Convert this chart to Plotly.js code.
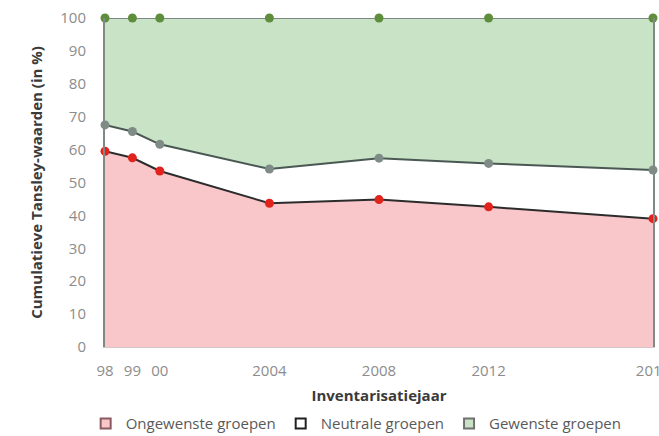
<!DOCTYPE html>
<html>
<head>
<meta charset="utf-8">
<script src="https://cdn.plot.ly/plotly-3.0.1.min.js"></script>
<style>
  html, body { margin: 0; padding: 0; background: #ffffff; }
  #chart { width: 659px; height: 436px; }
</style>
</head>
<body>
<div id="chart"></div>
<script>
// Inventory years and their axis labels
const years = [1998, 1999, 2000, 2004, 2008, 2012, 2018];
const yearLabels = ['98', '99', '00', '2004', '2008', '2012', '2018'];

// Share of Tansley values per group (in %), stacked cumulatively
const ongewenste = [59.5, 57.5, 53.5, 43.7, 44.8, 42.6, 39.0];
const neutrale   = [8.0, 8.0, 8.1, 10.4, 12.6, 13.2, 14.8];
const gewenste   = [32.5, 34.5, 38.4, 45.9, 42.6, 44.2, 46.2];

const seriesNames = ['Ongewenste groepen', 'Neutrale groepen', 'Gewenste groepen'];
const yTicks = [0, 10, 20, 30, 40, 50, 60, 70, 80, 90, 100];

const FONT = '"Open Sans", Lato, sans-serif';

function area(values, name, fill, line, marker) {
  return {
    type: 'scatter',
    mode: 'lines+markers',
    x: years,
    y: values,
    name: name,
    stackgroup: 'tansley',
    fillcolor: fill,
    line: { color: line, width: 2 },
    marker: { color: marker, size: 9 },
    cliponaxis: false,
    showlegend: false,
    hoverinfo: 'skip'
  };
}

// Square legend keys
function key(name, fill, border) {
  return {
    type: 'scatter',
    mode: 'markers',
    x: [null],
    y: [null],
    name: name,
    marker: { symbol: 'square', size: 10, color: fill, line: { color: border, width: 2 } },
    showlegend: true,
    hoverinfo: 'skip'
  };
}

const data = [
  area(ongewenste, seriesNames[0], '#f9c6c9', '#2c2c2c', '#e2231d'),
  area(neutrale,   seriesNames[1], '#ffffff', '#4a5853', '#7e8b86'),
  area(gewenste,   seriesNames[2], '#c8e3c5', '#7c8984', '#5e8e3c'),
  key(seriesNames[0], '#f9c6c9', '#8a5a60'),
  key(seriesNames[1], '#ffffff', '#202020'),
  key(seriesNames[2], '#c8e3c5', '#707070')
];

const layout = {
  width: 659,
  height: 436,
  margin: { l: 105, r: 6, t: 18, b: 89, autoexpand: false },
  paper_bgcolor: '#ffffff',
  plot_bgcolor: '#ffffff',
  font: { family: FONT, size: 15, color: '#8c8c8c' },
  showlegend: true,
  legend: {
    orientation: 'h',
    xref: 'container',
    yref: 'container',
    x: 0.13,
    xanchor: 'left',
    y: 0.028,
    yanchor: 'middle',
    font: { family: FONT, size: 15, color: '#5a5a5a' },
    itemwidth: 30,
    traceorder: 'normal'
  },
  xaxis: {
    range: [1998, 2018],
    tickmode: 'array',
    tickvals: years,
    ticktext: yearLabels,
    showgrid: false,
    zeroline: false,
    showline: true,
    linecolor: '#d4c8c9',
    linewidth: 1,
    ticks: '',
    ticklabelstandoff: 10,
    ticklabeloverflow: 'allow',
    tickfont: { family: FONT, size: 15, color: '#8c8c8c' },
    title: {
      text: 'Inventarisatiejaar',
      font: { family: FONT, size: 15, color: '#3a3a3a', weight: 'bold' },
      standoff: 11
    }
  },
  yaxis: {
    range: [0, 100],
    tickmode: 'array',
    tickvals: yTicks,
    showgrid: false,
    zeroline: false,
    showline: true,
    mirror: true,
    linecolor: '#7f8a86',
    linewidth: 2,
    ticks: '',
    ticklabelstandoff: 14,
    tickfont: { family: FONT, size: 15, color: '#8c8c8c' },
    title: {
      text: 'Cumulatieve Tansley-waarden (in %)',
      font: { family: FONT, size: 15, color: '#3a3a3a', weight: 'bold' },
      standoff: 14
    }
  }
};

Plotly.newPlot('chart', data, layout, { displayModeBar: false, staticPlot: true });
</script>
</body>
</html>
